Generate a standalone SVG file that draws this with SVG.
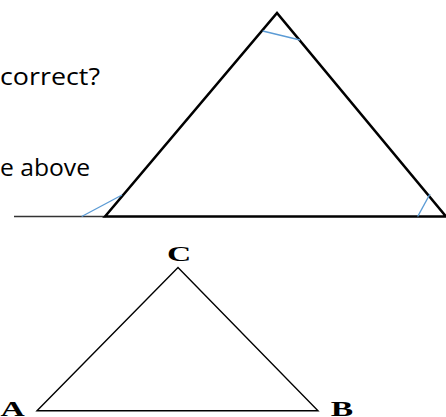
<svg xmlns="http://www.w3.org/2000/svg" width="446" height="417" viewBox="0 0 446 417">
<style>
.q{font-family:"Open Sans",Lato,"Liberation Sans",sans-serif;font-size:24px;fill:#000}
.lbl{font-family:"Liberation Serif","Times New Roman",serif;font-weight:bold;font-size:21px;fill:#000}
.tri{fill:none;stroke:#000;stroke-width:2.6;stroke-linejoin:miter}
.ang{stroke:#5b9bd5;stroke-width:1.4;fill:none}
.thin{fill:none;stroke:#000;stroke-width:1.4;stroke-linejoin:miter}
</style>
<rect width="446" height="417" fill="#fff"/>
<g id="text">
<text class="q" x="0" y="85" textLength="100" lengthAdjust="spacingAndGlyphs">correct?</text>
<text class="q" x="0" y="176" textLength="90" lengthAdjust="spacingAndGlyphs">e above</text>
</g>
<g id="top-triangle">
<line x1="14" y1="216.5" x2="106" y2="216.5" stroke="#333" stroke-width="1.5"/>
<polygon class="tri" points="105,216.5 277,13 446,216.5"/>
<line class="ang" x1="262.7" y1="31" x2="300" y2="40"/>
<line class="ang" x1="81.7" y1="216.5" x2="122" y2="195"/>
<line class="ang" x1="417.7" y1="216.5" x2="430" y2="194"/>
</g>
<g id="bottom-triangle">
<polygon class="thin" points="37,410.7 178,267.5 318,410.7"/>
<text class="lbl" transform="translate(179,261) scale(1.6,1)" text-anchor="middle">C</text>
<text class="lbl" transform="translate(12.5,415.5) scale(1.6,1)" text-anchor="middle">A</text>
<text class="lbl" transform="translate(342,415.5) scale(1.6,1)" text-anchor="middle">B</text>
</g>
</svg>
